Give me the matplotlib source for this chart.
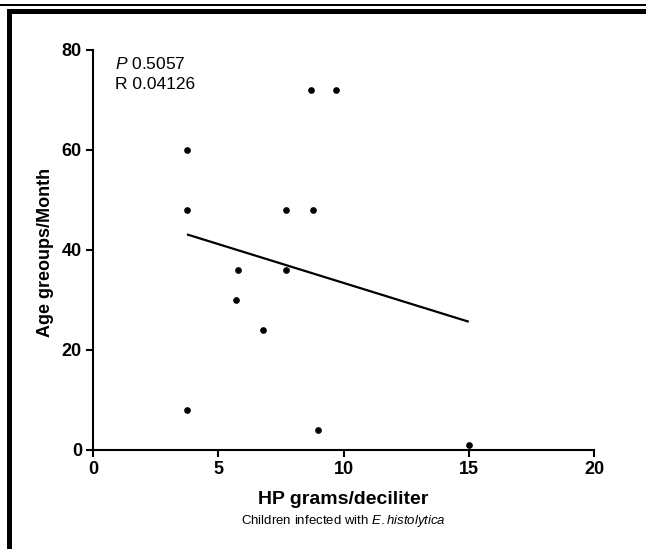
import numpy as np
import matplotlib
matplotlib.use("Agg")
import matplotlib.pyplot as plt
from matplotlib.patches import Rectangle

plt.rcParams['font.family'] = ['Liberation Sans', 'DejaVu Sans']
plt.rcParams['mathtext.fontset'] = 'custom'
plt.rcParams['mathtext.rm'] = 'Liberation Sans'
plt.rcParams['mathtext.it'] = 'Liberation Sans:italic'

# data
hp = [3.75, 3.75, 3.75, 5.8, 5.7, 6.8, 7.7, 7.7, 8.7, 9.7, 8.8, 9.0, 15.0]
age = [60, 48, 8, 36, 30, 24, 48, 36, 72, 72, 48, 4, 1]
x_ticks = [0, 5, 10, 15, 20]
y_ticks = [0, 20, 40, 60, 80]

W, H = 646, 549
fig = plt.figure(figsize=(W / 100, H / 100), dpi=100)
ax = fig.add_axes([93 / W, 1 - 450 / H, (594 - 93) / W, 400 / H])

# regression line over the data range
hp_arr = np.array(hp)
age_arr = np.array(age)
k, b = np.polyfit(hp_arr, age_arr, 1)
xs = np.array([hp_arr.min(), hp_arr.max()])
ax.plot(xs, k * xs + b, color='black', lw=1.6, solid_capstyle='butt')
ax.plot(hp, age, 'o', color='black', ms=3.8, mec='black')

ax.set_xlim(0, 20)
ax.set_ylim(0, 80)
ax.set_xticks(x_ticks)
ax.set_yticks(y_ticks)
for s in ['top', 'right']:
    ax.spines[s].set_visible(False)
for s in ['left', 'bottom']:
    ax.spines[s].set_linewidth(1.5)
ax.tick_params(width=1.5, length=5, labelsize=13, pad=3)
for lab in ax.get_xticklabels() + ax.get_yticklabels():
    lab.set_fontweight('bold')

# axis titles placed in figure pixels
fig.text(343 / W, 1 - 504 / H, 'HP grams/deciliter', ha='center', va='baseline',
         fontsize=14, fontweight='bold')
fig.text(46 / W, 1 - 252 / H, 'Age greoups/Month', ha='center', va='center',
         rotation=90, fontsize=13, fontweight='bold')
fig.text(343 / W, 1 - 521 / H, 'Children infected with $\\it{E.histolytica}$',
         ha='center', va='center', fontsize=9.5)

ax.text(0.043, 0.965, '$\\it{P}$ 0.5057', transform=ax.transAxes,
        fontsize=12.5, va='center')
ax.text(0.043, 0.915, 'R 0.04126', transform=ax.transAxes,
        fontsize=12.5, va='center')

# frame lines around the picture
fig.add_artist(Rectangle((0, 1 - 6 / H), 1, 2 / H, transform=fig.transFigure,
                         color='black', lw=0))
fig.add_artist(Rectangle((7 / W, 1 - 13.5 / H), 1, 5 / H, transform=fig.transFigure,
                         color='black', lw=0))
fig.add_artist(Rectangle((7 / W, 0), 5 / W, 1 - 8.5 / H, transform=fig.transFigure,
                         color='black', lw=0))

fig.savefig('out.png', dpi=100)
